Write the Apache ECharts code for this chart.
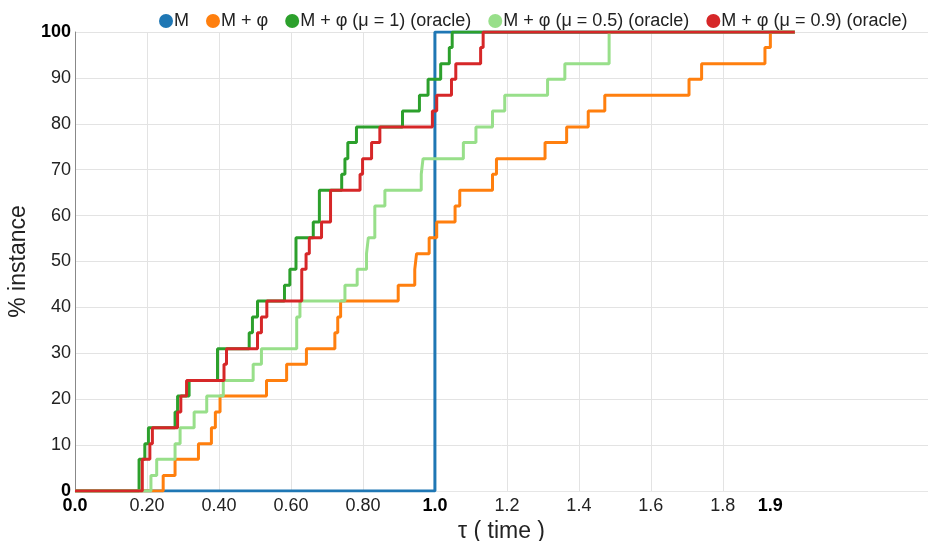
<!DOCTYPE html>
<html>
<head>
<meta charset="utf-8">
<script src="https://cdn.jsdelivr.net/npm/echarts@6.0.0/dist/echarts.min.js"></script>
<style>
  html, body { margin: 0; padding: 0; background: #fff; }
  #chart { width: 928px; height: 541px; }
</style>
</head>
<body>
<div id="chart"></div>
<script>
// series names, in drawing order (last one is on top)
const seriesNames = ["M", "M + φ", "M + φ (μ = 1) (oracle)", "M + φ (μ = 0.5) (oracle)", "M + φ (μ = 0.9) (oracle)"];
const seriesColors = ["#1f77b4", "#ff7f0e", "#2ca02c", "#98df8a", "#d62728"];

// tau where each step happens, and the % of instances after it
const tauM = [0, 1.0, 2.0];
const pctM = [0, 100, 100];

const tauPhi = [0, 0.245, 0.278, 0.343, 0.379, 0.390, 0.403, 0.532, 0.588, 0.643, 0.722, 0.730, 0.738, 0.898, 0.944, 0.949, 0.984, 1.005, 1.056, 1.069, 1.160, 1.171, 1.306, 1.366, 1.426, 1.472, 1.706, 1.741, 1.917, 1.932, 2.0];
const pctPhi = [0, 3.4, 6.9, 10.3, 13.8, 17.2, 20.7, 24.1, 27.6, 31.0, 34.5, 37.9, 41.4, 44.8, 48.3, 51.7, 55.2, 58.6, 62.1, 65.5, 69.0, 72.4, 75.9, 79.3, 82.8, 86.2, 89.7, 93.1, 96.6, 100, 100];

const tauMu1 = [0, 0.178, 0.194, 0.204, 0.278, 0.285, 0.317, 0.396, 0.484, 0.493, 0.507, 0.582, 0.597, 0.614, 0.662, 0.679, 0.741, 0.750, 0.758, 0.782, 0.910, 0.957, 0.981, 1.016, 1.040, 1.048, 2.0];
const pctMu1 = [0, 6.9, 10.3, 13.8, 17.2, 20.7, 24.1, 31.0, 34.5, 37.9, 41.4, 44.8, 48.3, 55.2, 58.6, 65.5, 69.0, 72.4, 75.9, 79.3, 82.8, 86.2, 89.7, 93.1, 96.6, 100, 100];

const tauMu05 = [0, 0.211, 0.227, 0.278, 0.292, 0.331, 0.366, 0.412, 0.495, 0.518, 0.616, 0.625, 0.750, 0.784, 0.810, 0.815, 0.833, 0.861, 0.962, 0.967, 1.079, 1.114, 1.160, 1.194, 1.313, 1.361, 1.484, 2.0];
const pctMu05 = [0, 3.4, 6.9, 10.3, 13.8, 17.2, 20.7, 24.1, 27.6, 31.0, 37.9, 41.4, 44.8, 48.3, 51.7, 55.2, 62.1, 65.5, 69.0, 72.4, 75.9, 79.3, 82.8, 86.2, 89.7, 93.1, 100, 100];

const tauMu09 = [0, 0.187, 0.208, 0.215, 0.285, 0.294, 0.310, 0.414, 0.421, 0.507, 0.518, 0.533, 0.630, 0.642, 0.651, 0.685, 0.710, 0.792, 0.799, 0.824, 0.847, 0.993, 1.005, 1.046, 1.058, 1.127, 1.134, 2.0];
const pctMu09 = [0, 6.9, 10.3, 13.8, 17.2, 20.7, 24.1, 27.6, 31.0, 34.5, 37.9, 41.4, 48.3, 51.7, 55.2, 58.6, 65.5, 69.0, 72.4, 75.9, 79.3, 82.8, 86.2, 89.7, 93.1, 96.6, 100, 100];

// x tick positions and their labels (bold ones wrapped in {b|})
const xTickValues = [0, 0.2, 0.4, 0.6, 0.8, 1.0, 1.2, 1.4, 1.6, 1.8, 1.932];
const xTickLabels = ["{b|0.0}", "0.20", "0.40", "0.60", "0.80", "{b|1.0}", "1.2", "1.4", "1.6", "1.8", "{b|1.9}"];
const xGridValues = [0, 0.2, 0.4, 0.6, 0.8, 1.0, 1.2, 1.4, 1.6, 1.8];

const taus = [tauM, tauPhi, tauMu1, tauMu05, tauMu09];
const pcts = [pctM, pctPhi, pctMu1, pctMu05, pctMu09];

const font = "'Liberation Sans', Arial, sans-serif";
const chart = echarts.init(document.getElementById("chart"));

const mySeries = seriesNames.map((name, i) => {
  return {
    name: name,
    type: "line",
    step: "end",
    showSymbol: false,
    data: taus[i].map((t, k) => [t, pcts[i][k]]),
    lineStyle: { width: 3, color: seriesColors[i] },
    itemStyle: { color: seriesColors[i] },
  };
});

chart.setOption({
  animation: false,
  color: seriesColors,
  textStyle: { fontFamily: font },
  legend: {
    data: seriesNames,
    left: 154,
    top: 7,
    icon: "circle",
    itemWidth: 14,
    itemHeight: 14,
    itemGap: 17,
    textStyle: { fontSize: 18, color: "#222", fontFamily: font, padding: [0, 0, 0, -4] },
  },
  grid: { left: 75, right: 0, top: 32, bottom: 50, containLabel: false, outerBoundsMode: "none" },
  xAxis: {
    type: "value",
    min: 0,
    max: 2.37,
    name: "τ ( time )",
    nameLocation: "middle",
    nameGap: 22,
    nameTextStyle: { fontSize: 23, color: "#222", fontFamily: font },
    axisLine: { show: true, lineStyle: { color: "#e6e6e6", width: 1 } },
    axisTick: { show: false, customValues: xGridValues },
    axisLabel: {
      customValues: xTickValues,
      margin: 6,
      fontSize: 18,
      color: "#222",
      fontFamily: font,
      formatter: (v) => {
        const k = xTickValues.findIndex((t) => Math.abs(t - v) < 1e-6);
        return k >= 0 ? xTickLabels[k] : "";
      },
      rich: { b: { fontWeight: "bold", fontSize: 18, color: "#000", fontFamily: font } },
    },
    splitLine: { show: true, lineStyle: { color: "#e3e3e3", width: 1 } },
  },
  yAxis: {
    type: "value",
    min: 0,
    max: 100,
    interval: 10,
    name: "% instance",
    nameLocation: "middle",
    nameGap: 45,
    nameTextStyle: { fontSize: 23, color: "#222", fontFamily: font },
    axisLine: { show: true, lineStyle: { color: "#888", width: 1 } },
    axisTick: { show: false },
    axisLabel: {
      margin: 4,
      fontSize: 18,
      color: "#222",
      fontFamily: font,
      formatter: (v) => (v === 0 || v === 100 ? "{b|" + v + "}" : String(v)),
      rich: { b: { fontWeight: "bold", fontSize: 18, color: "#000", fontFamily: font } },
    },
    splitLine: { show: true, lineStyle: { color: "#e3e3e3", width: 1 } },
  },
  series: mySeries,
});
</script>
</body>
</html>
